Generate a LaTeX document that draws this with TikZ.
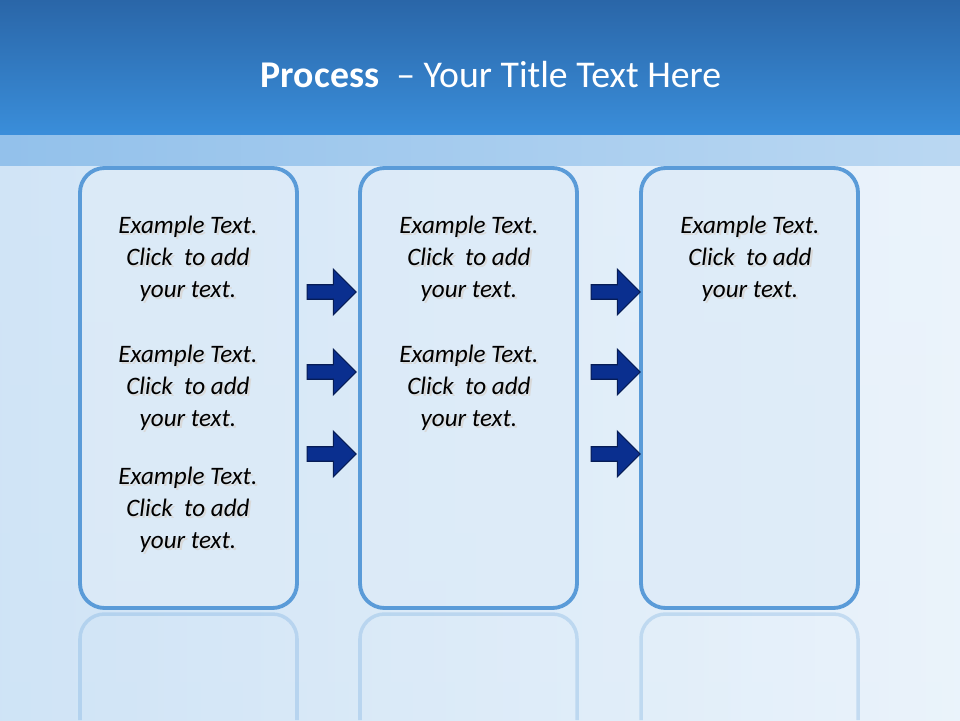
\documentclass[tikz,border=0pt]{standalone}
\usepackage{fontspec}
\setmainfont{Carlito}
\usetikzlibrary{shapes.arrows}
\definecolor{bar1}{HTML}{2A66A8}
\definecolor{bar2}{HTML}{3A8EDA}
\definecolor{boxfill}{HTML}{DDEBF8}
\definecolor{boxline}{HTML}{5A9BD8}
\definecolor{arr}{HTML}{0A2F8F}
\tikzset{
  panel/.style={draw=boxline,line width=2.2pt,fill=boxfill,fill opacity=0.8,rounded corners=14pt},
  refl/.style={draw=boxline,draw opacity=0.25,line width=2pt,rounded corners=14pt},
  txt/.style={font=\fontsize{14.3}{18.3}\selectfont\itshape,align=center,text=black},
  shd/.style={font=\fontsize{14.3}{18.3}\selectfont\itshape,align=center,text=gray!30},
  parr/.style={single arrow,draw=arr!60!black,line width=0.6pt,fill=arr,minimum width=26pt,minimum height=28pt,single arrow head extend=6pt,single arrow tip angle=90,inner sep=2.5pt}
}
\begin{document}
\begin{tikzpicture}[x=0.02cm,y=-0.02cm]
\useasboundingbox (0,0) rectangle (960,720);
\shade[top color=white!85!bar2!40,bottom color=white!92!bar2] (0,135) rectangle (960,720);
\shade[left color=bar2!35!white,right color=bar2!12!white,opacity=0.6] (0,165) rectangle (960,720);
\shade[top color=bar1,bottom color=bar2] (0,0) rectangle (960,135);
\shade[left color=bar2!55!white,right color=bar2!35!white] (0,135) rectangle (960,165);
\node[text=white,font=\fontsize{21.5}{26}\selectfont] (title) at (491,75) {\textbf{Process}\ \ – Your Title Text Here};
\foreach \x/\n in {80/a,360/b,641/c}{
  \draw[refl] (\x,720) -- (\x,614) -- (\x+217,614) -- (\x+217,720);
  \draw[panel] (\x,168) rectangle (\x+217,608);
  \coordinate (\n) at (\x+108,0);
}
\newcommand{\ex}[3]{%
  \node[shd] at ([xshift=1.2,yshift=-1.2]#1,#2) {Example Text.\\Click\ \ to add\\your text.};
  \node[txt] (#3) at (#1,#2) {Example Text.\\Click\ \ to add\\your text.};}
\ex{188}{259}{a1}
\ex{188}{388}{a2}
\ex{188}{510}{a3}
\ex{469}{259}{b1}
\ex{469}{388}{b2}
\ex{750}{259}{c1}
\foreach \x/\y/\n in {328/292/p1,328/372/p2,328/454/p3,612/292/q1,612/372/q2,612/454/q3}{
  \node[parr] (\n) at (\x,\y) {};
}
\end{tikzpicture}
\end{document}
